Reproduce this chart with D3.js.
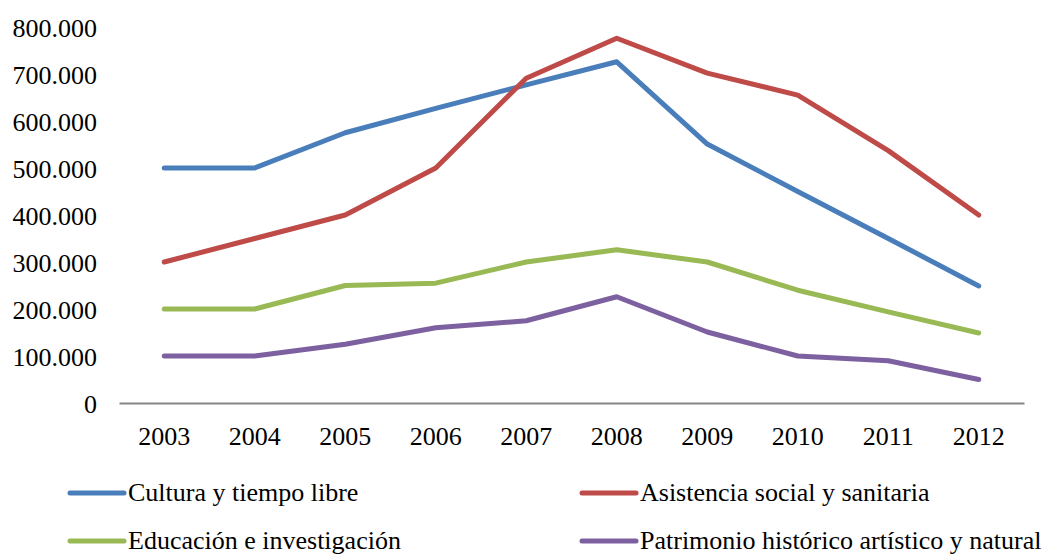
<!DOCTYPE html>
<html>
<head>
<meta charset="utf-8">
<script src="https://cdn.jsdelivr.net/npm/d3@7"></script>
<style>
  html, body { margin: 0; padding: 0; background: #fff; }
  svg { display: block; }
  svg text { font-family: "Liberation Serif", "Times New Roman", Times, "DejaVu Serif", serif !important; fill: #000; }
</style>
</head>
<body>
<svg id="chart" width="1052" height="555"></svg>
<script>
const years = ["2003","2004","2005","2006","2007","2008","2009","2010","2011","2012"];
const cultura = [500000, 500000, 575000, 627000, 677000, 726000, 551000, 450000, 350000, 249000];
const asistencia = [300000, 350000, 400000, 500000, 691000, 776000, 702000, 655000, 537000, 400000];
const educacion = [200000, 200000, 250000, 255000, 300000, 326000, 300000, 240000, 194000, 149000];
const patrimonio = [100000, 100000, 125000, 160000, 175000, 226000, 151000, 100000, 90000, 50000];
const seriesNames = ["Cultura y tiempo libre", "Asistencia social y sanitaria", "Educación e investigación", "Patrimonio histórico artístico y natural"];
const seriesColors = ["#4A7EBB", "#BE4B48", "#98B954", "#7D60A0"];
const yTicks = [0, 100000, 200000, 300000, 400000, 500000, 600000, 700000, 800000];

const seriesValues = [cultura, asistencia, educacion, patrimonio];

(function () {
const svg = d3.select("#chart");
const mLeft = 119, mRight = 1024, mTop = 27, mBottom = 403;
const FONT = '"Liberation Serif", "Times New Roman", Times, "DejaVu Serif", serif';

const x = d3.scaleBand().domain(years).range([mLeft, mRight]);
const y = d3.scaleLinear().domain([0, 800000]).range([mBottom, mTop]);

const loc = d3.formatLocale({decimal: ",", thousands: ".", grouping: [3], currency: ["", "€"]});
const fmt = loc.format(",d");

// Y axis labels (no line)
const yAxis = d3.axisLeft(y).tickValues(yTicks).tickFormat(fmt).tickSize(0).tickPadding(22);
const gy = svg.append("g").attr("transform", `translate(${mLeft},0)`).call(yAxis);
gy.attr("font-family", null).attr("font-size", null);
gy.select(".domain").remove();
gy.selectAll("text").style("font-family", FONT).style("font-size", "26px").attr("fill", "#000").attr("dy", "0.35em");

// X axis
const xAxis = d3.axisBottom(x).tickSize(0).tickPadding(24);
const gx = svg.append("g").attr("transform", `translate(0,${mBottom})`).call(xAxis);
gx.attr("font-family", null).attr("font-size", null);
gx.select(".domain").attr("stroke", "#868686").attr("stroke-width", 2);
gx.selectAll("text").style("font-family", FONT).style("font-size", "26px").attr("fill", "#000");

// Lines
const line = d3.line().x((d, i) => x(years[i]) + x.bandwidth() / 2).y(d => y(d));
seriesValues.forEach((vals, k) => {
  svg.append("path")
    .datum(vals)
    .attr("d", line)
    .attr("fill", "none")
    .attr("stroke", seriesColors[k])
    .attr("stroke-width", 5)
    .attr("stroke-linejoin", "round")
    .attr("stroke-linecap", "round");
});

// Legend
const legPos = [[70, 493], [582, 493], [70, 541], [582, 541]];
seriesNames.forEach((name, k) => {
  const [lx, ly] = legPos[k];
  const g = svg.append("g").attr("transform", `translate(${lx},${ly})`);
  g.append("line").attr("x1", 0).attr("x2", 54).attr("y1", 0).attr("y2", 0)
    .attr("stroke", seriesColors[k]).attr("stroke-width", 5).attr("stroke-linecap", "round");
  g.append("text").attr("x", 58).attr("y", 8).style("font-family", FONT).style("font-size", "26px").text(name);
});
})();
</script>
</body>
</html>
